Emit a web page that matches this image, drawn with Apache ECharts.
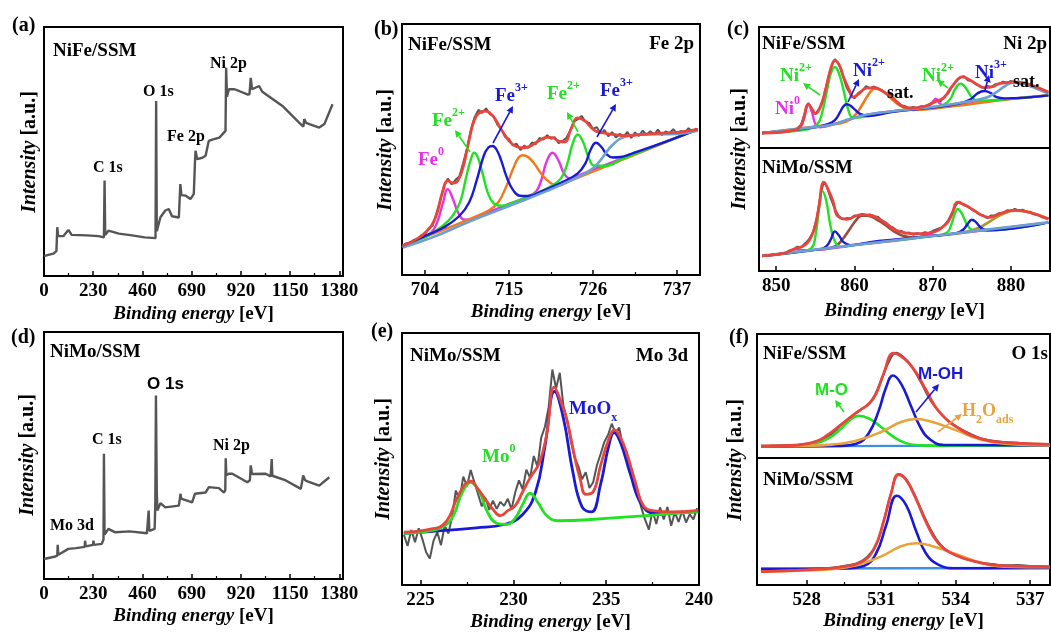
<!DOCTYPE html>
<html>
<head>
<meta charset="utf-8">
<script src="https://cdn.jsdelivr.net/npm/echarts@6/dist/echarts.min.js"></script>
<style>
  html, body { margin: 0; padding: 0; background: #fff; }
  #chart { width: 1051px; height: 635px; }
</style>
</head>
<body>
<div id="chart"></div>
<script>
// ---- tick labels ----
var surveyTicks = [0, 230, 460, 690, 920, 1150, 1380];
var surveyMinor = [115, 345, 575, 805, 1035, 1265];
var fe2pTicks = [704, 715, 726, 737];
var fe2pMinor = [709.5, 720.5, 731.5];
var ni2pTicks = [850, 860, 870, 880];
var ni2pMinor = [855, 865, 875];
var mo3dTicks = [225, 230, 235, 240];
var mo3dMinor = [227.5, 232.5, 237.5];
var o1sTicks = [528, 531, 534, 537];
var o1sMinor = [529.5, 532.5, 535.5];

// ---- (a) survey NiFe/SSM  [eV, intensity] ----
var surveyNiFe = [[0,8],[20,8.5],[44,9],[58,10],[62,19.6],[66,16],[90,16],[98,16.5],[114,18.5],[129,16.5],[200,16.3],[255,16],[280,15.5],[283,38.3],[286,16.5],[301,18.2],[350,17],[411,16.3],[470,15.5],[521,15.2],[524,70.3],[527,18],[533,17.6],[544,23.6],[567,26.3],[575,25.5],[583,26.9],[598,24],[630,23.5],[637,36.9],[642,32.5],[661,32.3],[684,30.9],[700,33],[705,45],[708,50.3],[716,46.9],[740,47.5],[755,48.3],[770,54.3],[790,54.9],[820,55.6],[848,58.3],[851,83.6],[855,72],[864,75],[890,75],[911,74.3],[950,72.9],[960,73],[966,79.6],[972,75],[1005,76.3],[1020,74],[1114,68.3],[1192,61.6],[1212,60],[1216,63],[1225,61.5],[1240,61],[1286,59.6],[1310,61],[1348,69]];

// ---- (d) survey NiMo/SSM ----
var surveyNiMo = [[0,8.1],[48,9],[62,9.5],[64,13.8],[67,9.8],[114,12.2],[150,12.5],[190,13],[192,15.5],[195,13.2],[229,13.8],[231,15.5],[234,13.8],[270,14.2],[278,16],[280,50.7],[283,18],[301,20.3],[333,18.9],[400,19.3],[481,18.5],[487,19],[489,27.7],[492,19.5],[517,20.3],[520,30],[523,74.3],[527,35],[530,27.7],[544,30.7],[567,29],[630,29.7],[636,30],[638,34.5],[641,32.5],[692,31],[705,34.5],[708,35],[755,35],[770,37.2],[817,36.8],[841,35],[847,36],[849,48.9],[852,42],[855,41.5],[864,42.6],[880,42.6],[950,39.2],[962,40],[966,46],[972,42.5],[981,42.2],[1036,42.6],[1059,41.5],[1062,42],[1064,48.6],[1067,41.8],[1070,41.5],[1130,39.9],[1200,36.5],[1205,37],[1211,41.9],[1220,40],[1231,39.5],[1286,37.8],[1333,41.2]];

// ---- (b) Fe 2p NiFe/SSM ----
var fe2pRaw = [[701,11],[701.5,12.6],[702,12.2],[702.5,13.9],[703,14.1],[703.5,15.8],[704,16.2],[704.5,18.5],[705,19.6],[705.5,24.5],[706,29.8],[706.5,35.6],[707,38.4],[707.5,36.1],[708,37.9],[708.5,39.2],[709,44.5],[709.5,50.3],[710,57.8],[710.5,62.9],[711,65.8],[711.5,64.6],[712,66.4],[712.5,64.1],[713,63.2],[713.5,59.8],[714,58.1],[714.5,55],[715,54.2],[715.5,51.6],[716,52.3],[716.5,49.8],[717,51.5],[717.5,50.6],[718,52.8],[718.5,52.1],[719,54.6],[719.5,53.9],[720,55.7],[720.5,54.3],[721,54.9],[721.5,52.5],[722,53.4],[722.5,54.6],[723,57.4],[723.5,61.2],[724,62],[724.5,63.4],[725,61.1],[725.5,60.6],[726,58.2],[726.5,58.9],[727,56.4],[727.5,57.8],[728,55.3],[728.5,56.9],[729,54.8],[729.5,56.3],[730,55.1],[730.5,57],[731,54.6],[731.5,56.8],[732,55.4],[732.5,57.5],[733,55.9],[733.5,57.3],[734,56],[734.5,57.9],[735,55.7],[735.5,57.2],[736,56.5],[736.5,58.1],[737,56.2],[737.5,57.4],[738,56.6],[738.5,58.5],[739,57.1],[739.5,58.4]];
var fe2pEnvelope = [[701.1,11.7],[702.4,13.5],[704.1,17],[705.4,23],[706.3,33],[707,37.5],[707.7,36.6],[708.3,37.5],[709,43],[709.8,54],[710.5,62],[711.3,65],[711.8,65.3],[712.4,64.8],[713.1,62.5],[714.2,57],[715.5,52],[716.8,50.7],[717.7,51.2],[718.9,53.5],[720,54.8],[720.7,54.7],[721.6,53.2],[722.3,53],[723.1,58],[724,62.6],[724.9,61.5],[725.7,59],[726.4,57.3],[727.5,56.5],[728.6,56],[730.3,55.5],[732.5,56],[735,56.5],[737,56.8],[739.7,58]];
var fe2pFe0 = [[701.1,11.7],[703.5,14.7],[704.8,16.8],[705.6,21],[706.3,28],[707,34.2],[707.7,30],[708.4,24.5],[709.2,22],[710.2,22.3],[712,24.6],[715,28.3],[717.5,31.3],[718.6,33.5],[719.3,38.5],[719.9,45],[720.7,48.7],[721.5,45.5],[722.2,40.5],[723,38.4],[724,39.5],[726,42],[739.7,58]];
var fe2pFe2 = [[701.1,11.7],[704.1,15.2],[706.3,19.5],[707.6,23.5],[708.6,29],[709.4,39],[710,46],[710.45,48.7],[710.9,47],[711.5,41],[712.2,33],[713,28.5],[714,27.6],[715.5,28.8],[718,31.8],[720.5,35.3],[721.8,38.5],[722.6,44],[723.3,52],[724,56],[724.7,53],[725.4,47],[726.2,43.5],[727.5,43.5],[730,46.5],[739.7,58]];
var fe2pFe3 = [[701.1,11.7],[704,15.5],[706.5,19],[708.5,23.5],[709.8,29],[710.8,38],[711.7,47.5],[712.3,50.8],[712.85,51.4],[713.4,49.8],[714,45.5],[714.7,39],[715.5,34],[716.4,31.6],[717.5,31.5],[719.5,33.6],[722,37],[724,40.5],[725,44.5],[725.7,50],[726.4,52.7],[727.1,51],[727.8,48],[728.6,46.8],[729.6,47],[731,48.3],[735,52.5],[739.7,58]];
var fe2pSat = [[701.1,11.7],[706,17.5],[710,22.5],[712.5,26],[713.6,29],[714.6,35],[715.5,42],[716.2,46.5],[716.8,47.7],[717.5,47],[718.4,44],[719.3,40],[720.3,37],[721.3,35.6],[723,37.5],[739.7,58]];
var fe2pBackground = [[701.1,11],[705,15],[710,21.5],[715,27.5],[720,33.5],[724,39],[726,42.5],[727.3,47],[728.6,52],[730.3,55.2],[732.5,56],[736.9,56.2],[739.7,57.5]];

// ---- (c) Ni 2p NiFe/SSM ----
var ni2pFeRaw = [[848.2,12],[848.7,13.1],[849.2,12.4],[849.7,13.6],[850.2,13],[850.7,14.2],[851.2,13.5],[851.7,14.8],[852.2,14.6],[852.7,16.3],[853.2,19.5],[853.7,30.1],[854.1,37.2],[854.5,32.8],[855,28],[855.5,32.5],[856,40.6],[856.5,53.8],[857,66.2],[857.5,73.4],[858,69.5],[858.5,60.2],[859,50.1],[859.5,44.3],[860,41],[860.5,45.6],[861,47.4],[861.5,51.2],[862,49.3],[862.5,50.8],[863,48.7],[863.5,47.9],[864,45.1],[864.5,43.8],[865,40.2],[865.5,38.1],[866,35.3],[866.5,34.6],[867,32.8],[867.5,33.9],[868,33.1],[868.5,34.5],[869,34.2],[869.5,35.8],[870,37.5],[870.5,39.9],[871,38.6],[871.5,42.5],[872,45.3],[872.5,51.4],[873,55.2],[873.5,58.1],[874,59.4],[874.5,56],[875,55.3],[875.5,52.6],[876,51.5],[876.5,49.4],[877,51.2],[877.5,50.3],[878,52.6],[878.5,52.9],[879,54.8],[879.5,53.7],[880,55.4],[880.5,54.1],[881,55],[881.5,53.4],[882,52.9],[882.5,51.3],[883,50.6],[883.5,48.5],[884,48],[884.8,46]];
var ni2pFeEnvelope = [[848.2,12.4],[852.5,15],[853.4,22],[854.1,36],[854.6,32],[855,28.4],[855.6,33],[856.3,48],[856.9,64],[857.5,72.5],[858.1,68],[858.6,58.7],[859.4,47],[859.8,42],[860.6,45],[861.5,49.5],[862.6,49.9],[863.6,47],[864.8,42],[866,35],[867.5,33],[869,34.5],[870.4,38.5],[870.8,39.4],[871.5,42],[872.5,51],[873.8,58.7],[874.8,56],[875.5,53.2],[876.6,49.9],[877.8,51],[878.5,53.2],[880.2,54.5],[881.5,54],[882.7,51.8],[884.8,46.3]];
var ni2pFeNi0 = [[848.2,12.4],[852.5,15],[853.2,18],[853.6,27],[854.1,36.6],[854.6,29],[855,20],[855.6,17.2],[858,21],[862,28],[866,31],[869.2,33.5],[869.9,37],[870.4,40.8],[870.9,37],[871.5,34.5],[876,38],[884.8,43.5]];
var ni2pFeNi2 = [[848.2,12.4],[854,15.5],[855.3,20],[855.9,30],[856.5,48],[857,62],[857.5,66.9],[858,62],[858.6,48],[859.2,32],[859.8,25],[861,25.5],[865,30.5],[870,33.9],[871.5,36],[872.3,41],[872.9,49],[873.6,53.2],[874.3,49],[875,42],[875.8,39],[877,39.2],[884.8,43.5]];
var ni2pFeNi3 = [[848.2,12.4],[855,17],[856.5,19.5],[857.5,23],[858.2,30],[858.6,34.5],[859,36.1],[859.5,35],[860.1,31.5],[860.8,28],[861.8,26.5],[865,30],[870,33.5],[873.5,37],[874.8,40],[875.7,45],[876.6,47.1],[877.4,45.5],[878.2,42],[879.2,41],[884.8,43.5]];
var ni2pFeSat = [[848.2,12.4],[857.2,19.5],[859,22],[860.2,28],[861.2,38],[862,46],[862.6,49],[863.3,48],[864.2,44],[865.2,38],[866.3,33.5],[867.5,31.5],[870,32.5],[875,36.5],[880,40.5],[884.8,43.5]];
var ni2pFeBackground = [[848.2,12.4],[853,16],[857.2,19.5],[859.4,24],[861.5,27.5],[865.8,31],[870,33.9],[874.2,38],[876.8,41.5],[878,45.5],[879.2,51],[880.2,54],[881.4,53.5],[882.7,50.5],[884.8,45]];

// ---- (c) Ni 2p NiMo/SSM ----
var ni2pMoRaw = [[848.2,12],[848.7,13.2],[849.2,12.6],[849.7,13.9],[850.2,13.4],[850.7,14.6],[851.2,14.8],[851.7,16.7],[852.2,17.3],[852.7,19.8],[853.2,19.4],[853.7,22.5],[854.2,25.8],[854.7,31.5],[855.2,43.2],[855.7,63.5],[856.1,72.8],[856.5,68],[857,58.4],[857.5,50.2],[858,44.6],[858.5,42.1],[859,43],[859.5,42.6],[860,45.1],[860.5,44.8],[861,46.5],[861.5,45.2],[862,46],[862.5,44.3],[863,44.2],[863.5,41.1],[864,39.5],[864.5,36.6],[865,35],[865.5,32.4],[866,32.6],[866.5,30.4],[867,31.3],[867.5,29.5],[868,30.8],[868.5,29.9],[869,31.6],[869.5,30.8],[870,32.5],[870.5,33.9],[871,35],[871.5,37.2],[872,41.4],[872.5,47.6],[873,53.9],[873.4,56.4],[874,53.5],[874.5,52.4],[875,50],[875.5,48.6],[876,46],[876.5,45.1],[877,43],[877.5,45.2],[878,45],[878.5,47.1],[879,46.9],[879.5,49.3],[880,48.8],[880.5,50.4],[881,49.1],[881.5,49.9],[882,48],[882.5,48.2],[883,46.1],[883.5,45.7],[884,43.6],[884.8,42.5]];
var ni2pMoEnvelope = [[848.2,12.3],[851,14.5],[852.2,17.7],[853.8,21.8],[854.8,33],[855.4,50],[856.1,72.2],[856.8,64],[857.3,56],[857.7,46],[858.2,43],[859,42],[860.1,44.5],[860.9,45.8],[862.3,45],[862.8,43.6],[864.3,37.5],[864.9,34.1],[866.5,31],[867.9,30.3],[869.9,31.3],[871.7,38.1],[872.4,45],[873.2,55.9],[874,54],[875,50.4],[876.2,45.5],[877.2,43.6],[878.5,46.5],[880.6,49.5],[882.5,47.5],[884.8,42.2]];
var ni2pMoNi0 = [[848.2,12.3],[851.5,14.8],[852.5,17.7],[853.3,17],[854.5,17],[860,21],[868,27],[869.5,30],[870.5,29],[872,29.6],[884.8,39.5]];
var ni2pMoNi2 = [[848.2,12.3],[853,15.8],[854.5,18.5],[855,28],[855.5,52],[855.9,64.9],[856.4,57],[856.9,38],[857.5,24],[858.3,19.5],[860,21.1],[870,28.5],[871.8,31],[872.4,38],[872.8,46],[873.2,50.4],[873.7,47],[874.3,39],[875,33.5],[876,32.6],[884.8,39.5]];
var ni2pMoNi3 = [[848.2,12.3],[855.5,17.6],[856.4,20],[857,26],[857.5,32.2],[858,29],[858.6,23.5],[859.5,21],[862,23.5],[873,30.8],[873.9,33.5],[874.5,38.5],[875,41.7],[875.5,40],[876.2,35],[877,33],[884.8,39.5]];
var ni2pMoSat1 = [[855,17.3],[857.5,20],[858.5,26],[859.5,35],[860.3,42],[860.9,45],[861.7,45],[862.7,42.5],[863.8,38],[865,32.5],[866.3,28.5],[868,27.2]];
var ni2pMoSat2 = [[870,28.5],[874,31.5],[876,35.5],[877.5,41],[879,46.5],[880.5,49],[882,48.2],[883.5,45.5],[884.8,42.5]];
var ni2pMoBackground = [[848.2,12.3],[855,17.4],[860,21.1],[865,24.8],[870,28.5],[875,32.2],[880,35.9],[884.8,39.5]];

// ---- (e) Mo 3d NiMo/SSM ----
var mo3dRaw = [[224.1,20],[224.3,15.5],[224.5,21.8],[224.7,17],[224.9,22.5],[225.1,18.2],[225.3,13],[225.5,10.5],[225.7,17.6],[225.9,21],[226.1,15.8],[226.3,23.5],[226.5,20.4],[226.7,27.2],[226.9,37.5],[227.1,33.8],[227.3,43],[227.5,39.2],[227.7,45.6],[227.9,40.8],[228.1,36],[228.3,31.2],[228.5,34.5],[228.7,29.8],[228.9,33.5],[229.1,30.2],[229.3,33],[229.5,31.4],[229.7,34.2],[229.9,30],[230.1,36.8],[230.3,41.5],[230.5,38],[230.7,45.8],[230.9,42.5],[231.1,51.2],[231.3,47],[231.5,58.5],[231.7,62.8],[231.9,70.5],[232.1,85.5],[232.3,78],[232.5,84.2],[232.7,70.8],[232.9,65.5],[233.1,57],[233.3,50.5],[233.5,47.2],[233.7,42],[233.9,44.8],[234.1,38.5],[234.3,40.8],[234.5,47.5],[234.7,52],[234.9,56.8],[235.1,59.5],[235.3,64],[235.5,60.2],[235.7,62.5],[235.9,55],[236.1,52.8],[236.3,45.5],[236.5,41.2],[236.7,36],[236.9,30.5],[237.1,25.8],[237.3,22],[237.5,29.5],[237.7,24.2],[237.9,30.8],[238.1,26],[238.3,31],[238.5,23.5],[238.7,28.8],[238.9,25],[239.1,29.5],[239.3,24.8],[239.5,28],[239.7,26],[239.9,30.5]];
var mo3dEnvelope = [[224.1,21],[225.4,22],[226.3,24.5],[227,35],[227.4,40],[227.7,41.2],[228.1,38],[228.4,35],[228.9,30],[229.3,27.5],[229.7,29.5],[230.1,31.5],[230.5,37],[230.9,42.5],[231.4,48.5],[231.8,60],[232.2,78.5],[232.6,72],[232.9,65],[233.3,51],[233.6,42],[233.9,36],[234.3,37],[234.7,47.5],[235.1,57],[235.45,61.5],[235.8,58],[236.1,52.5],[236.6,40],[237,31.5],[237.5,29.5],[238.5,29],[239.96,29.6]];
var mo3dMo0 = [[224.1,20.5],[225.5,21.5],[226.3,23.5],[226.8,28],[227.2,36],[227.7,40.7],[228.2,36.5],[228.6,29],[229.1,24.5],[229.6,24],[230.1,26.5],[230.5,32],[230.9,36.4],[231.3,33],[231.8,27.5],[232.4,25.5],[234,25.9],[239.96,29.1]];
var mo3dMoOx = [[224.1,20.5],[228,22.7],[229.5,24],[230.5,28],[231.2,37],[231.7,55],[232.22,76.8],[232.7,66],[233.2,45],[233.7,31],[234.2,29],[234.7,40],[235.1,54],[235.43,60.5],[235.8,56],[236.3,44],[236.9,32],[237.6,28.5],[239.96,29.1]];

// ---- (f) O 1s NiFe/SSM ----
var o1sFeRaw = [[526.16,9.8],[526.6,10],[527,10.3],[527.4,10.1],[527.8,11],[528.2,12.4],[528.6,15],[529,19.5],[529.4,26.8],[529.8,33.5],[530.2,39.2],[530.6,46],[531,62.5],[531.3,77],[531.6,84.8],[531.9,81.5],[532.2,74.8],[532.6,61],[533,46],[533.4,36],[533.8,28.5],[534.2,23.5],[534.6,19.5],[535,16],[535.5,14],[536,12.8],[536.5,12.4],[537,11.5],[537.5,11.2],[537.8,11]];
var o1sFeEnvelope = [[526.16,9.6],[527.7,10.5],[528.4,13.5],[528.8,18],[529.45,28],[530.1,38],[530.5,43.5],[530.8,52],[531.1,68],[531.5,84.5],[531.8,82],[532.1,77],[532.5,66],[532.8,55],[533.35,37],[534.2,23],[535.1,15],[536,12.5],[537.8,11]];
var o1sFeMO = [[526.16,9.4],[527.5,9.9],[528.3,11.5],[528.9,16],[529.4,24],[529.8,31.5],[530.1,34],[530.5,32],[531,25],[531.5,17],[532,12],[532.6,10.2],[533.5,9.8],[537.8,10.2]];
var o1sFeMOH = [[526.16,9.4],[529.3,9.8],[530,11.5],[530.5,20],[530.9,38],[531.2,57],[531.47,66.5],[531.8,60],[532.2,42],[532.6,24],[533,14.5],[533.5,10.6],[537.8,10.2]];
var o1sFeH2O = [[526.16,9.6],[528,9.9],[529,10.8],[530,14],[531,21],[531.8,29],[532.41,31.4],[533,29.5],[534,22.5],[535,15],[536,11.5],[537.8,10.2]];
var o1sFeBackground = [[526.16,9.4],[537.8,10.2]];

// ---- (f) O 1s NiMo/SSM ----
var o1sMoRaw = [[526.16,10.6],[526.6,10.9],[527,11.3],[527.5,11.5],[528,12],[528.5,12.8],[529,13.6],[529.5,15],[530,17],[530.4,21.5],[530.8,31.5],[531.1,50.5],[531.4,72.5],[531.7,87.5],[532,83.5],[532.3,73],[532.6,60],[533,43.5],[533.4,31.5],[533.8,25.5],[534.2,22],[534.6,19.5],[535,17.8],[535.5,16.5],[536,15.5],[536.5,15.8],[537,15],[537.5,14.6],[537.8,14.4]];
var o1sMoEnvelope = [[526.16,10.5],[528.5,12.5],[529.5,14.5],[530.2,18],[530.7,28],[531.1,50],[531.4,72],[531.7,86.8],[532,83],[532.4,68],[532.8,50],[533.3,33],[534,23.5],[535,17.5],[536,15],[537.8,14.5]];
var o1sMoMOH = [[526.16,12.5],[529.5,13],[530.3,15],[530.8,25],[531.2,47],[531.63,70.3],[532,63],[532.4,43],[532.8,25],[533.3,16],[534,13.2],[537.8,13.5]];
var o1sMoH2O = [[526.16,10.5],[528,11.5],[529,12.5],[530,15.5],[531,22.5],[531.8,30.5],[532.41,32.9],[533,31],[534,24.5],[535,17.5],[536,14.5],[537.8,14]];
var o1sMoBackground = [[526.16,13],[537.8,13.4]];

// ---------------------------------------------------------------
var SERIF = '"Liberation Serif", "Times New Roman", serif';
var SANS = '"Liberation Sans", Arial, sans-serif';
var C = {
    raw: '#555555', red: '#e8453c', green: '#22e022', blue: '#1a1ad6',
    magenta: '#e632e6', orange: '#f07a1a', sky: '#6c9fd2', brown: '#9b4a3c',
    olive: '#a89a2a', gold: '#e8a33d', base: '#3f8fe0'
};

var gridBoxes = [
    {left: 44, top: 27, width: 299, height: 249},
    {left: 402, top: 24, width: 298, height: 251},
    {left: 759, top: 27, width: 291, height: 121},
    {left: 759, top: 148, width: 291, height: 123},
    {left: 44, top: 332, width: 299, height: 247},
    {left: 402, top: 333, width: 297, height: 252},
    {left: 757, top: 334, width: 293, height: 124},
    {left: 757, top: 458, width: 293, height: 127}
];
var ranges = [[0,1397],[701,740],[847.8,885],[847.8,885],[0,1397],[224,240],[526,537.8],[526,537.8]];
var majors = [surveyTicks, fe2pTicks, null, ni2pTicks, surveyTicks, mo3dTicks, null, o1sTicks];
var minors = [surveyMinor, fe2pMinor, null, ni2pMinor, surveyMinor, mo3dMinor, null, o1sMinor];
var nameGaps = [29, 28, 31, 31, 28, 28, 28, 27];

var xNameRich = {
    i: {fontFamily: SERIF, fontStyle: 'italic', fontWeight: 'bold', fontSize: 19, color: '#000'},
    n: {fontFamily: SERIF, fontWeight: 'bold', fontSize: 19, color: '#000'}
};

var grids = [], xAxes = [], yAxes = [], extraAxes = [];
gridBoxes.forEach(function (b, i) {
    grids.push({left: b.left, top: b.top, width: b.width, height: b.height,
        show: true, borderColor: '#000', borderWidth: 2, containLabel: false});
    yAxes.push({gridIndex: i, type: 'value', min: 0, max: 100, show: false});
    if (!majors[i]) {
        xAxes.push({gridIndex: i, type: 'value', min: ranges[i][0], max: ranges[i][1], show: false});
        return;
    }
    xAxes.push({
        gridIndex: i, type: 'value', min: ranges[i][0], max: ranges[i][1], position: 'bottom',
        axisLine: {show: true, lineStyle: {color: '#000', width: 2}},
        axisTick: {show: true, inside: true, length: 5, customValues: majors[i], lineStyle: {color: '#000', width: 1.5}},
        axisLabel: {customValues: majors[i], margin: 6, color: '#000', fontFamily: SERIF, fontWeight: 'bold', fontSize: 19,
            formatter: function (v) { return String(v); }},
        splitLine: {show: false},
        name: '{i|Binding energy }{n|[eV]}', nameLocation: 'middle', nameGap: nameGaps[i],
        nameTextStyle: {rich: xNameRich}
    });
    extraAxes.push({
        gridIndex: i, type: 'value', min: ranges[i][0], max: ranges[i][1], position: 'bottom',
        axisLine: {show: false},
        axisTick: {show: true, inside: true, length: 3, customValues: minors[i], lineStyle: {color: '#000', width: 1.2}},
        axisLabel: {show: false}, splitLine: {show: false}
    });
});
xAxes = xAxes.concat(extraAxes);

function ln(gi, data, color, width, smooth, z) {
    return {
        type: 'line', xAxisIndex: gi, yAxisIndex: gi, data: data, symbol: 'none',
        smooth: smooth ? 0.45 : false,
        lineStyle: {color: color, width: width}, z: z || 2, silent: true, animation: false
    };
}

var series = [
    ln(0, surveyNiFe, C.raw, 2.4, false),
    ln(4, surveyNiMo, C.raw, 2.4, false),

    ln(1, fe2pRaw, C.raw, 2, false, 2),
    ln(1, fe2pFe0, C.magenta, 2.4, true, 3),
    ln(1, fe2pSat, C.orange, 2.4, true, 3),
    ln(1, fe2pFe2, C.green, 2.4, true, 4),
    ln(1, fe2pFe3, C.blue, 2.4, true, 4),
    ln(1, fe2pBackground, C.sky, 2.6, true, 5),
    ln(1, fe2pEnvelope, C.red, 2.8, true, 6),

    ln(2, ni2pFeRaw, C.raw, 2, false, 2),
    ln(2, ni2pFeNi0, C.magenta, 2.4, true, 3),
    ln(2, ni2pFeSat, C.orange, 2.6, true, 3),
    ln(2, ni2pFeNi2, C.green, 2.4, true, 4),
    ln(2, ni2pFeNi3, C.blue, 2.4, true, 4),
    ln(2, ni2pFeBackground, C.sky, 2.6, true, 5),
    ln(2, ni2pFeEnvelope, C.red, 2.8, true, 6),

    ln(3, ni2pMoRaw, C.raw, 2, false, 2),
    ln(3, ni2pMoNi0, C.magenta, 2.4, true, 3),
    ln(3, ni2pMoSat1, C.brown, 2.6, true, 3),
    ln(3, ni2pMoSat2, C.olive, 2.6, true, 3),
    ln(3, ni2pMoNi2, C.green, 2.4, true, 4),
    ln(3, ni2pMoNi3, C.blue, 2.4, true, 4),
    ln(3, ni2pMoBackground, C.sky, 2.6, false, 5),
    ln(3, ni2pMoEnvelope, C.red, 2.8, true, 6),

    ln(5, mo3dRaw, C.raw, 2, false, 2),
    ln(5, mo3dMoOx, C.blue, 2.8, true, 4),
    ln(5, mo3dMo0, C.green, 2.8, true, 5),
    ln(5, mo3dEnvelope, C.red, 2.8, true, 6),

    ln(6, o1sFeRaw, C.raw, 2, true, 2),
    ln(6, o1sFeBackground, C.base, 2.4, false, 3),
    ln(6, o1sFeMO, C.green, 2.6, true, 4),
    ln(6, o1sFeMOH, C.blue, 2.6, true, 4),
    ln(6, o1sFeH2O, C.gold, 2.6, true, 5),
    ln(6, o1sFeEnvelope, C.red, 2.8, true, 6),

    ln(7, o1sMoRaw, C.raw, 2, true, 2),
    ln(7, o1sMoBackground, C.base, 2.4, false, 3),
    ln(7, o1sMoMOH, C.blue, 2.6, true, 4),
    ln(7, o1sMoH2O, C.gold, 2.6, true, 5),
    ln(7, o1sMoEnvelope, C.red, 2.8, true, 6)
];

// ---- annotations ----
function txt(x, y, text, color, size, align, family) {
    return {type: 'text', x: x, y: y, z: 50, style: {
        text: text, fill: color || '#000', align: align || 'left', verticalAlign: 'middle',
        font: 'bold ' + (size || 19) + 'px ' + (family || SERIF)}};
}
function ion(x, y, main, sup, color) {
    return {type: 'text', x: x, y: y, z: 50, style: {
        text: '{m|' + main + '}{s|' + sup + '}', align: 'left', verticalAlign: 'middle',
        rich: {
            m: {fontFamily: SERIF, fontWeight: 'bold', fontSize: 19, fill: color, lineHeight: 24, verticalAlign: 'bottom'},
            s: {fontFamily: SERIF, fontWeight: 'bold', fontSize: 12, fill: color, lineHeight: 12, verticalAlign: 'top'}
        }}};
}
function sub(x, y, parts, color, size) {
    var text = parts.map(function (p) { return '{' + p[1] + '|' + p[0] + '}'; }).join('');
    return {type: 'text', x: x, y: y, z: 50, style: {
        text: text, align: 'left', verticalAlign: 'middle',
        rich: {
            m: {fontFamily: SERIF, fontWeight: 'bold', fontSize: size || 19, fill: color, lineHeight: 24, verticalAlign: 'top'},
            s: {fontFamily: SERIF, fontWeight: 'bold', fontSize: 12, fill: color, lineHeight: 12, verticalAlign: 'bottom'}
        }}};
}
function yName(x, y) {
    return {type: 'text', x: x, y: y, rotation: Math.PI / 2, z: 50, style: {
        text: '{i|Intensity }{n|[a.u.]}', align: 'center', verticalAlign: 'middle',
        rich: {
            i: {fontFamily: SERIF, fontStyle: 'italic', fontWeight: 'bold', fontSize: 20, fill: '#000'},
            n: {fontFamily: SERIF, fontWeight: 'bold', fontSize: 20, fill: '#000'}
        }}};
}
function arrow(x1, y1, x2, y2, color) {
    var a = Math.atan2(y2 - y1, x2 - x1), L = 7, W = 3.5;
    var bx = x2 - L * Math.cos(a), by = y2 - L * Math.sin(a);
    return [
        {type: 'line', z: 49, shape: {x1: x1, y1: y1, x2: bx, y2: by}, style: {stroke: color, lineWidth: 1.6}},
        {type: 'polygon', z: 49, shape: {points: [[x2, y2], [bx + W * Math.sin(a), by - W * Math.cos(a)], [bx - W * Math.sin(a), by + W * Math.cos(a)]]}, style: {fill: color}}
    ];
}

var graphics = [
    txt(12, 26, '(a)', '#000', 20), txt(374, 30, '(b)', '#000', 20), txt(727, 30, '(c)', '#000', 20),
    txt(11, 338, '(d)', '#000', 20), txt(371, 332, '(e)', '#000', 20), txt(729, 338, '(f)', '#000', 20),
    yName(30, 152), yName(386, 150), yName(740, 149), yName(28, 455), yName(384, 459), yName(736, 460),

    // (a)
    txt(53, 51, 'NiFe/SSM'), txt(93, 168, 'C 1s', '#000', 16), txt(143, 92, 'O 1s', '#000', 16),
    txt(167, 137, 'Fe 2p', '#000', 16), txt(210, 64, 'Ni 2p', '#000', 16),
    // (d)
    txt(50, 352, 'NiMo/SSM'), txt(50, 526, 'Mo 3d', '#000', 16), txt(92, 440, 'C 1s', '#000', 16),
    txt(147, 384, 'O 1s', '#000', 17, 'left', SANS), txt(213, 446, 'Ni 2p', '#000', 16),
    // (b)
    txt(408, 45, 'NiFe/SSM'), txt(694, 44, 'Fe 2p', '#000', 19, 'right'),
    ion(418, 158, 'Fe', '0', C.magenta), ion(432, 119, 'Fe', '2+', C.green), ion(495, 94, 'Fe', '3+', C.blue),
    ion(547, 92, 'Fe', '2+', C.green), ion(600, 89, 'Fe', '3+', C.blue),
    // (c)
    txt(762, 44, 'NiFe/SSM'), txt(1047, 44, 'Ni 2p', '#000', 19, 'right'),
    ion(775, 107, 'Ni', '0', C.magenta), ion(780, 74, 'Ni', '2+', C.green), ion(853, 69, 'Ni', '2+', C.blue),
    txt(887, 93, 'sat.', '#000', 18), ion(922, 74, 'Ni', '2+', C.green), ion(975, 71, 'Ni', '3+', C.blue),
    txt(1013, 82, 'sat.', '#000', 18), txt(762, 168, 'NiMo/SSM'),
    // (e)
    txt(410, 356, 'NiMo/SSM'), txt(688, 356, 'Mo 3d', '#000', 19, 'right'),
    sub(569, 412, [['MoO', 'm'], ['x', 's']], C.blue), ion(482, 455, 'Mo', '0', C.green),
    // (f)
    txt(763, 354, 'NiFe/SSM'), txt(1048, 354, 'O 1s', '#000', 19, 'right'),
    txt(815, 390, 'M-O', C.green, 17, 'left', SANS), txt(918, 374, 'M-OH', C.blue, 17, 'left', SANS),
    sub(962, 414, [['H', 'm'], ['2', 's'], ['O', 'm'], ['ads', 's']], C.gold, 18),
    txt(763, 480, 'NiMo/SSM')
];
graphics = graphics
    .concat(arrow(470, 152, 455, 130, C.green)).concat(arrow(493, 143, 513, 106, C.blue))
    .concat(arrow(578, 132, 567, 112, C.green)).concat(arrow(597, 137, 616, 104, C.blue))
    .concat(arrow(820, 95, 803, 83, C.green)).concat(arrow(848, 102, 859, 79, C.blue))
    .concat(arrow(948, 88, 937, 80, C.green)).concat(arrow(985, 90, 989, 75, C.blue))
    .concat(arrow(844, 412, 835, 400, C.green)).concat(arrow(916, 412, 939, 384, C.blue))
    .concat(arrow(938, 432, 962, 414, C.gold));

var myChart = echarts.init(document.getElementById('chart'), null, {renderer: 'canvas'});
myChart.setOption({
    animation: false,
    backgroundColor: '#fff',
    grid: grids,
    xAxis: xAxes,
    yAxis: yAxes,
    series: series,
    graphic: graphics
});
</script>
</body>
</html>
